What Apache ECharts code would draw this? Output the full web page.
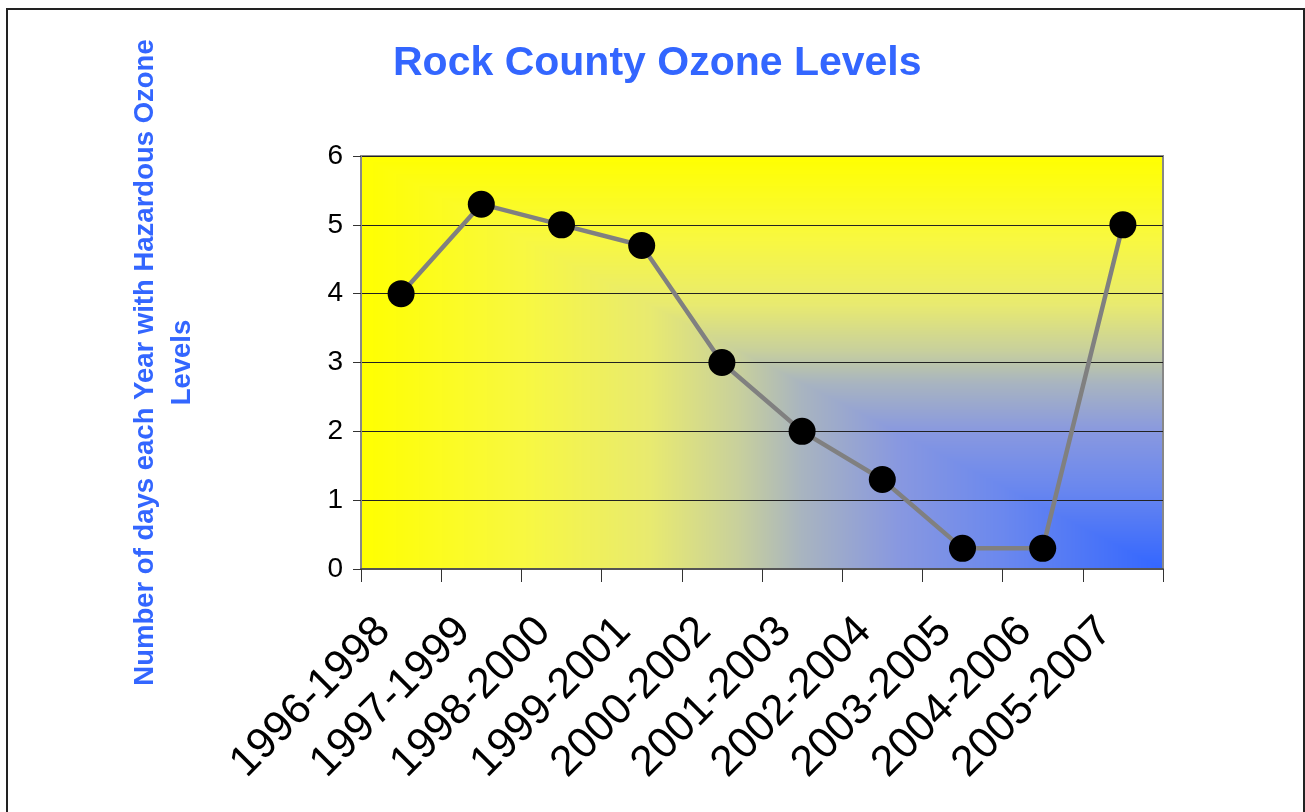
<!DOCTYPE html>
<html>
<head>
<meta charset="utf-8">
<title>Rock County Ozone Levels</title>
<script src="https://cdn.jsdelivr.net/npm/echarts@6/dist/echarts.min.js"></script>
<style>
  html, body { margin: 0; padding: 0; background: #fff; }
  #chart { width: 1305px; height: 812px; }
</style>
</head>
<body>
<div id="chart"></div>
<script>
// data
const periods = ['1996-1998', '1997-1999', '1998-2000', '1999-2001', '2000-2002',
  '2001-2003', '2002-2004', '2003-2005', '2004-2006', '2005-2007']
const hazardDays = [4, 5.3, 5, 4.7, 3, 2, 1.3, 0.3, 0.3, 5]

// layout
const font = '"Liberation Sans", Arial, sans-serif'
const blue = '#3366ff'
const plot = { left: 361, top: 156, width: 802, height: 413 }

// "from corner" fill: blue in bottom-right, yellow towards top and left
const bgStops = [
  [0, '#3366ff'],
  [0.2, '#6b88ee'],
  [0.33, '#8898e0'],
  [0.45, '#a8b4c0'],
  [0.53, '#c8d09c'],
  [0.64, '#e8ea70'],
  [0.8, '#f8f840'],
  [1, '#ffff00']
]

const hexToRgb = (hex) => [1, 3, 5].map(i => parseInt(hex.substr(i, 2), 16))

const makeCornerFill = (w, h) => {
  const cv = document.createElement('canvas')
  cv.width = w
  cv.height = h
  const ctx = cv.getContext('2d')
  const img = ctx.createImageData(w, h)
  const stops = bgStops.map(s => [s[0], hexToRgb(s[1])])
  for (let y = 0; y < h; y++) {
    for (let x = 0; x < w; x++) {
      const t = Math.max((w - 1 - x) / (w - 1), (h - 1 - y) / (h - 1))
      let k = 1
      while (k < stops.length - 1 && stops[k][0] < t) k++
      const a = stops[k - 1], b = stops[k]
      const f = (t - a[0]) / (b[0] - a[0])
      const p = (y * w + x) * 4
      for (let c = 0; c < 3; c++) {
        img.data[p + c] = Math.round(a[1][c] + (b[1][c] - a[1][c]) * f)
      }
      img.data[p + 3] = 255
    }
  }
  ctx.putImageData(img, 0, 0)
  return cv
}

const chart = echarts.init(document.getElementById('chart'))

const option = {
  animation: false,
  backgroundColor: '#fff',
  title: {
    text: 'Rock County Ozone Levels',
    left: 388,
    top: 38,
    textStyle: { fontFamily: font, fontSize: 41, fontWeight: 'bold', color: blue }
  },
  graphic: [
    {
      type: 'image',
      left: plot.left,
      top: plot.top,
      z: -1,
      silent: true,
      style: { image: makeCornerFill(plot.width, plot.height), width: plot.width, height: plot.height }
    },
    {
      type: 'rect',
      silent: true,
      shape: { x: 7, y: 9, width: 1297, height: 830 },
      style: { fill: 'none', stroke: '#222', lineWidth: 2 }
    }
  ],
  grid: {
    left: plot.left,
    top: plot.top,
    width: plot.width,
    height: plot.height,
    show: true,
    backgroundColor: 'transparent',
    borderColor: '#888',
    borderWidth: 2
  },
  xAxis: {
    type: 'category',
    data: periods,
    boundaryGap: true,
    axisLine: { lineStyle: { color: '#555', width: 2 } },
    axisTick: { show: true, interval: 0, length: 13, lineStyle: { color: '#333' } },
    axisLabel: {
      interval: 0, rotate: 45, fontSize: 43, color: '#000', margin: 38,
      padding: [0, 25, 0, 0], fontFamily: font, hideOverlap: false
    }
  },
  yAxis: {
    type: 'value',
    min: 0,
    max: 6,
    interval: 1,
    name: 'Number of days each Year with Hazardous Ozone\nLevels',
    nameLocation: 'middle',
    nameGap: 160,
    nameTextStyle: { fontFamily: font, fontSize: 27.5, fontWeight: 'bold', color: blue, lineHeight: 37 },
    axisLine: { show: true, lineStyle: { color: '#888', width: 2 } },
    axisTick: { show: true, length: 8, lineStyle: { color: '#333' } },
    axisLabel: { fontSize: 28, color: '#000', margin: 18, fontFamily: font },
    splitLine: { lineStyle: { color: '#222', width: 1 } }
  },
  series: [
    {
      name: 'Hazardous ozone days',
      type: 'line',
      data: hazardDays,
      symbol: 'circle',
      symbolSize: 27,
      itemStyle: { color: '#000' },
      lineStyle: { color: '#808080', width: 4.5 }
    }
  ]
}

chart.setOption(option)
</script>
</body>
</html>
